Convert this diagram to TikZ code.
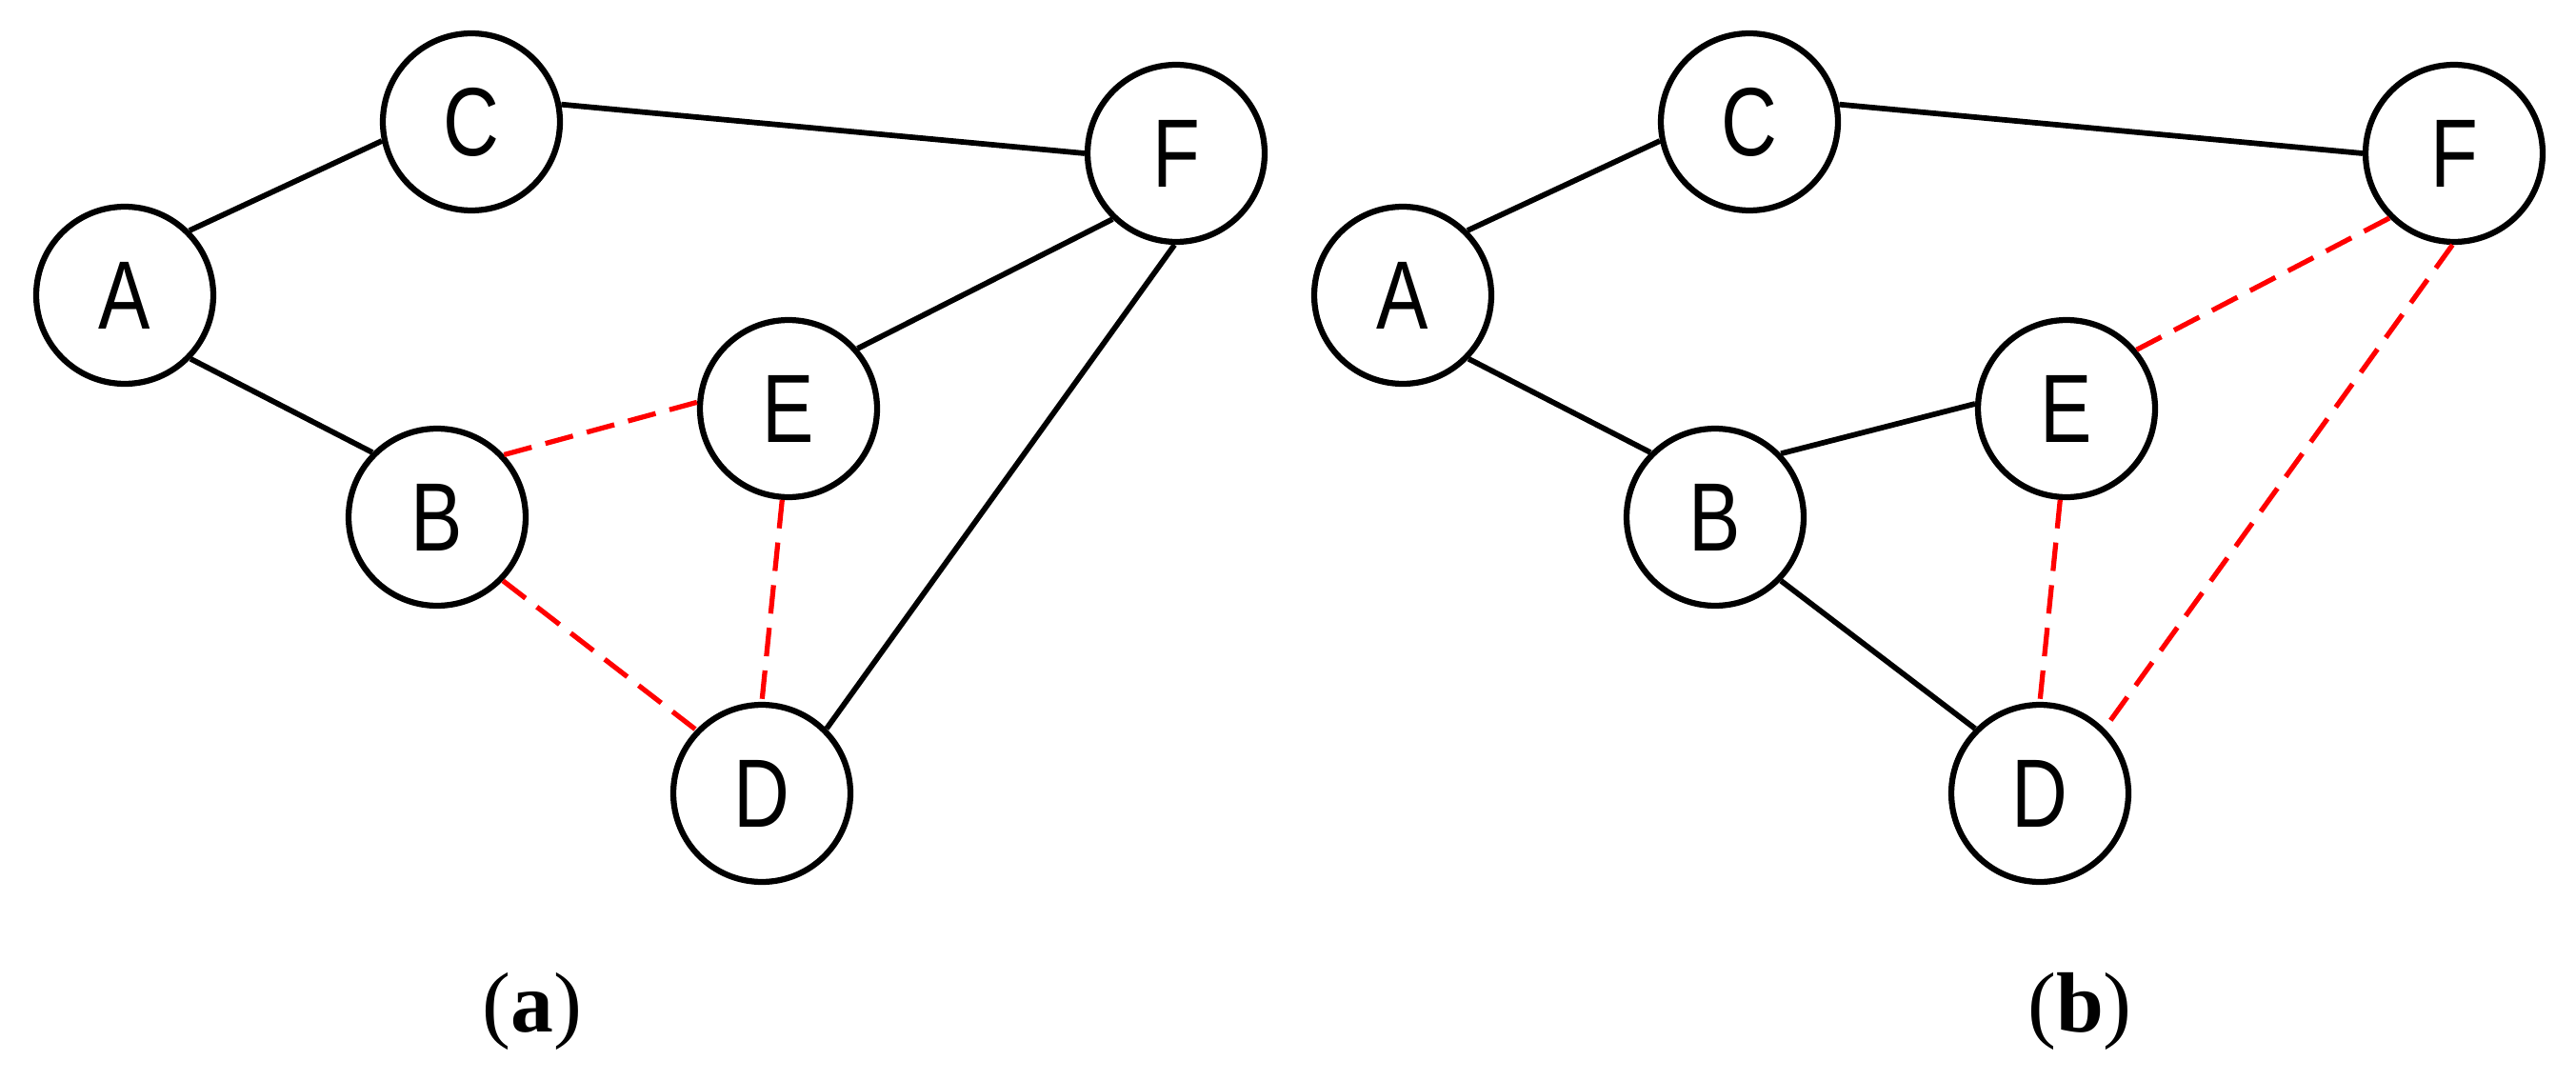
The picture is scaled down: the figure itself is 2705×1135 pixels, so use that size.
\documentclass[tikz,border=0pt]{standalone}
\usepackage{fontspec}
\setmainfont{Liberation Serif}
\newfontfamily\vtxfont{Liberation Sans}
\newcommand{\vlab}[1]{\scalebox{0.8}[1]{#1}}
\begin{document}
\begin{tikzpicture}[x=0.02cm,y=-0.02cm,
  vtx/.style={circle,draw=black,line width=0.125cm,minimum size=3.72cm,inner sep=0pt,
    font=\vtxfont\fontsize{58}{60}\selectfont},
  edge/.style={draw=black,line width=0.115cm},
  redge/.style={draw=red,line width=0.105cm,dash pattern=on 0.6cm off 0.3cm},
  caption/.style={font=\fontsize{51}{55}\selectfont,inner sep=0pt}]
\useasboundingbox (0,0) rectangle (2705,1135);
% ---- (a) ----
\node[vtx] (C1) at (495,128) {\vlab{C}};
\node[vtx] (F1) at (1235,161) {\vlab{F}};
\node[vtx] (A1) at (131,310) {\vlab{A}};
\node[vtx] (E1) at (828,429) {\vlab{E}};
\node[vtx] (B1) at (459,543) {\vlab{B}};
\node[vtx] (D1) at (800,833) {\vlab{D}};
\draw[edge] (A1.45) -- (C1.192);
\draw[edge] (A1.-44) -- (B1.135);
\draw[edge] (C1.11) -- (F1.180);
\draw[edge] (F1.226) -- (E1.41);
\draw[edge] (F1.269) -- (D1.45);
\draw[redge] (B1.43) -- (E1.176);
\draw[redge] (B1.-44) -- (D1.136);
\draw[redge] (E1.266) -- (D1.90);
\node[caption] (capa) at (559,1062) {(\textbf{a})};
% ---- (b) ----
\node[vtx] (C2) at (1837,128) {\vlab{C}};
\node[vtx] (F2) at (2577,161) {\vlab{F}};
\node[vtx] (A2) at (1473,310) {\vlab{A}};
\node[vtx] (E2) at (2170,429) {\vlab{E}};
\node[vtx] (B2) at (1801,543) {\vlab{B}};
\node[vtx] (D2) at (2142,833) {\vlab{D}};
\draw[edge] (A2.45) -- (C2.192);
\draw[edge] (A2.-44) -- (B2.135);
\draw[edge] (C2.11) -- (F2.180);
\draw[edge] (B2.44) -- (E2.177);
\draw[edge] (B2.-44) -- (D2.135);
\draw[redge] (F2.225) -- (E2.40);
\draw[redge] (F2.269) -- (D2.45);
\draw[redge] (E2.266) -- (D2.90);
\node[caption] (capb) at (2184,1062) {(\textbf{b})};
\end{tikzpicture}
\end{document}
